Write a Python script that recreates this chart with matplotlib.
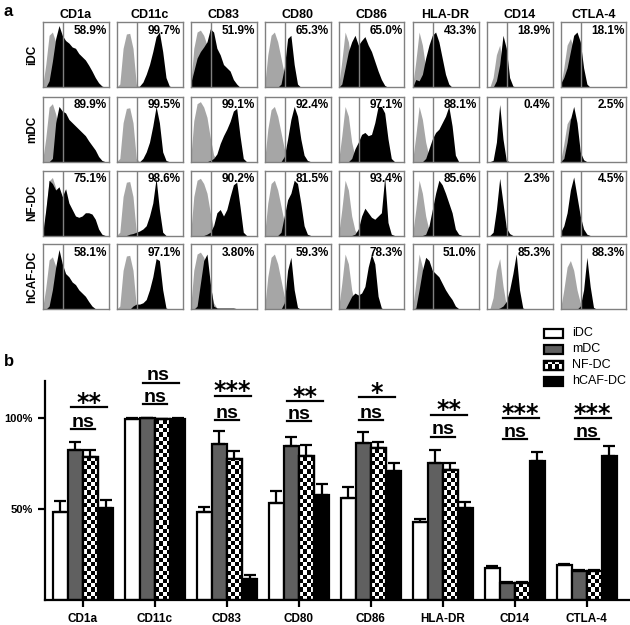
import numpy as np
import matplotlib
matplotlib.use('Agg')
import matplotlib.pyplot as plt
from matplotlib.patches import Rectangle

plt.rcParams['font.family'] = ['Liberation Sans', 'DejaVu Sans']

markers = ['CD1a', 'CD11c', 'CD83', 'CD80', 'CD86', 'HLA-DR', 'CD14', 'CTLA-4']
cell_types = ['iDC', 'mDC', 'NF-DC', 'hCAF-DC']

# ---- panel a: flow histograms (heights, 21 bins across each panel)
pct = [['58.9%', '99.7%', '51.9%', '65.3%', '65.0%', '43.3%', '18.9%', '18.1%'],
       ['89.9%', '99.5%', '99.1%', '92.4%', '97.1%', '88.1%', '0.4%', '2.5%'],
       ['75.1%', '98.6%', '90.2%', '81.5%', '93.4%', '85.6%', '2.3%', '4.5%'],
       ['58.1%', '97.1%', '3.80%', '59.3%', '78.3%', '51.0%', '85.3%', '88.3%']]

# isotype control (grey), one per marker
iso = [
    [0, .35, .8, .85, .7, .45, .25, .1, .03, 0, 0, 0, 0, 0, 0, 0, 0, 0, 0, 0, 0],
    [0, .05, .6, .82, .83, .6, .05, 0, 0, 0, 0, 0, 0, 0, 0, 0, 0, 0, 0, 0, 0],
    [0, .6, .85, .88, .8, .65, .35, .1, .02, 0, 0, 0, 0, 0, 0, 0, 0, 0, 0, 0, 0],
    [0, .5, .8, .85, .7, .45, .2, .05, 0, 0, 0, 0, 0, 0, 0, 0, 0, 0, 0, 0, 0],
    [0, .4, .85, .7, .3, .08, 0, 0, 0, 0, 0, 0, 0, 0, 0, 0, 0, 0, 0, 0, 0],
    [0, .4, .85, .65, .3, .08, 0, 0, 0, 0, 0, 0, 0, 0, 0, 0, 0, 0, 0, 0, 0],
    [0, 0, .15, .5, .65, .3, .05, 0, 0, 0, 0, 0, 0, 0, 0, 0, 0, 0, 0, 0, 0],
    [0, .3, .65, .75, .6, .3, .1, 0, 0, 0, 0, 0, 0, 0, 0, 0, 0, 0, 0, 0, 0],
]
iso_scale = [[1, 1, 1, 1, 1, 1, 1, 1],
             [1.05, 1, 1.05, 1, 1, 1, 0, 0.9],
             [1.05, 1, 1, 1, 1, 1, 0, 0],
             [0.95, 1, 1, 1, 1, 1, 1.2, 1]]

hist_idc = [
    [0, 0, .1, .4, .75, .95, .8, .72, .68, .62, .6, .52, .47, .42, .34, .25, .15, .07, .02, 0, 0],
    [0, 0, 0, 0, 0, 0, 0, .02, .08, .2, .35, .55, .78, .85, .55, .15, .02, 0, 0, 0, 0],
    [.05, .25, .45, .55, .62, .7, .9, .85, .6, .5, .35, .3, .25, .12, .05, 0, 0, 0, 0, 0, 0],
    [0, 0, 0, 0, 0, .05, .3, .75, .8, .35, .05, 0, 0, 0, 0, 0, 0, 0, 0, 0, 0],
    [0, .05, .3, .55, .7, .8, .65, .72, .78, .65, .55, .4, .25, .12, .03, 0, 0, 0, 0, 0, 0],
    [0, .12, .1, .2, .45, .65, .8, .85, .7, .45, .2, .05, 0, 0, 0, 0, 0, 0, 0, 0, 0],
    [0, 0, 0, .1, .35, .8, .6, .15, .02, 0, 0, 0, 0, 0, 0, 0, 0, 0, 0, 0, 0],
    [.05, .15, .3, .55, .8, .85, .7, .3, .05, 0, 0, 0, 0, 0, 0, 0, 0, 0, 0, 0, 0],
]
hist_mdc = [
    [0, 0, 0, .05, .6, .85, .78, .75, .65, .6, .55, .5, .45, .4, .32, .25, .18, .08, .02, 0, 0],
    [0, 0, 0, 0, 0, 0, 0, 0, .05, .15, .3, .55, .85, .6, .15, .02, 0, 0, 0, 0, 0],
    [0, 0, 0, 0, 0, 0, .02, .05, .12, .28, .4, .5, .62, .78, .82, .4, .05, 0, 0, 0, 0],
    [0, 0, 0, 0, 0, 0, .08, .35, .65, .85, .7, .35, .1, .02, 0, 0, 0, 0, 0, 0, 0],
    [0, 0, 0, 0, .05, .2, .3, .42, .45, .4, .42, .6, .85, .85, .75, .35, .05, 0, 0, 0, 0],
    [0, 0, 0, 0, .05, .2, .35, .45, .5, .6, .7, .85, .55, .1, 0, 0, 0, 0, 0, 0, 0],
    [0, 0, .02, .3, .88, .35, .02, 0, 0, 0, 0, 0, 0, 0, 0, 0, 0, 0, 0, 0, 0],
    [0, .05, .3, .65, .85, .6, .15, .03, 0, 0, 0, 0, 0, 0, 0, 0, 0, 0, 0, 0, 0],
]
hist_nf = [
    [0, .4, .85, .8, .7, .75, .6, .72, .5, .4, .3, .28, .3, .35, .35, .33, .25, .1, .02, 0, 0],
    [0, 0, 0, 0, .02, .03, .05, .07, .1, .15, .3, .5, .88, .4, .05, 0, 0, 0, 0, 0, 0],
    [0, 0, 0, 0, 0, .02, .05, .15, .35, .4, .3, .4, .6, .78, .82, .45, .05, 0, 0, 0, 0],
    [0, 0, 0, 0, 0, .05, .3, .55, .65, .85, .8, .5, .15, .02, 0, 0, 0, 0, 0, 0, 0],
    [0, 0, 0, 0, 0, .02, .1, .3, .42, .35, .28, .25, .3, .35, .9, .2, .02, 0, 0, 0, 0],
    [0, 0, 0, 0, .02, .15, .4, .65, .85, .78, .65, .5, .35, .1, .02, 0, 0, 0, 0, 0, 0],
    [0, 0, .05, .4, .88, .5, .12, .03, 0, 0, 0, 0, 0, 0, 0, 0, 0, 0, 0, 0, 0],
    [.05, .15, .35, .7, .9, .6, .3, .1, .02, 0, 0, 0, 0, 0, 0, 0, 0, 0, 0, 0, 0],
]
hist_hcaf = [
    [0, 0, .05, .3, .65, .92, .7, .55, .5, .42, .38, .3, .25, .2, .12, .05, .01, 0, 0, 0, 0],
    [0, 0, 0, 0, 0, .05, .08, .08, .1, .15, .3, .5, .78, .75, .3, .02, 0, 0, 0, 0, 0],
    [0, 0, .05, .4, .75, .85, .4, .05, .02, .02, .02, .02, .02, .02, .01, 0, 0, 0, 0, 0, 0],
    [0, 0, 0, 0, 0, 0, .1, .6, .8, .3, .03, 0, 0, 0, 0, 0, 0, 0, 0, 0, 0],
    [0, 0, 0, .1, .2, .25, .22, .25, .35, .65, .85, .7, .2, .02, 0, 0, 0, 0, 0, 0, 0],
    [0, .02, .3, .6, .8, .75, .6, .55, .5, .4, .3, .22, .15, .05, .01, 0, 0, 0, 0, 0, 0],
    [0, 0, 0, 0, .02, .05, .12, .3, .55, .85, .3, .02, 0, 0, 0, 0, 0, 0, 0, 0, 0],
    [0, 0, 0, 0, 0, 0, .05, .3, .8, .35, .03, 0, 0, 0, 0, 0, 0, 0, 0, 0, 0],
]
hists = [hist_idc, hist_mdc, hist_nf, hist_hcaf]

# ---- panel b: mean % positive and SEM (upper only)
idc = [48.4, 99.6, 48.4, 53.3, 56.0, 42.9, 17.6, 19.2]
idc_err = [6.0, 0.2, 2.6, 6.6, 6.0, 1.6, 1.1, 0.6]
mdc = [82.4, 99.7, 85.7, 84.6, 86.3, 75.3, 9.3, 15.9]
mdc_err = [4.4, 0.2, 7.2, 5.0, 6.0, 7.1, 0.6, 0.6]
nf = [78.6, 99.3, 77.5, 79.1, 83.5, 71.4, 9.3, 15.9]
nf_err = [3.8, 0.3, 4.4, 6.1, 3.3, 3.9, 0.6, 0.6]
hcaf = [50.5, 99.6, 11.5, 57.7, 70.9, 50.5, 76.4, 79.1]
hcaf_err = [4.5, 0.2, 2.2, 6.0, 4.4, 3.3, 4.9, 5.5]

sig_upper = ['**', 'ns', '***', '**', '*', '**', '***', '***']
sig_lower = ['ns'] * 8
upper_y = [105.7, 119.4, 112.1, 109.0, 111.4, 101.6, 99.8, 99.8]
lower_y = [93.8, 107.5, 98.9, 98.0, 98.9, 89.7, 88.3, 88.3]

W, H = 630, 625
fig = plt.figure(figsize=(6.3, 6.25), dpi=100)

def px_axes(left, top, w, h):
    return fig.add_axes([left / W, 1 - (top + h) / H, w / W, h / H])

xs = np.linspace(0, 1, 21)
row_tops = [22.3, 96.7, 170.5, 244.3]
frame_col = '#808080'
for r in range(4):
    for c in range(8):
        ax = px_axes(42.5 + 74 * c, row_tops[r], 66, 65)
        g = np.array(iso[c]) * iso_scale[r][c]
        ax.fill_between(xs, 0, g, color='#a6a6a6', lw=0)
        ax.fill_between(xs, 0, hists[r][c], color='black', lw=0)
        ax.axvline(0.31, color=frame_col, lw=1)
        ax.set_xlim(0, 1)
        ax.set_ylim(0, 1)
        ax.set_xticks([])
        ax.set_yticks([])
        for s in ax.spines.values():
            s.set_color(frame_col)
            s.set_linewidth(1)
        ax.text(0.97, 0.96, pct[r][c], transform=ax.transAxes, ha='right', va='top',
                fontsize=8.5, fontweight='bold')
        if r == 0:
            ax.set_title(markers[c], fontsize=9, fontweight='bold', pad=3)
    fig.text(32 / W, 1 - (row_tops[r] + 32.5) / H, cell_types[r], rotation=90,
             ha='center', va='center', fontsize=8.5, fontweight='bold')

# ---- panel b
axb = fig.add_axes([45.5 / W, 1 - 600 / H, 583 / W, 219.5 / H])
x = np.arange(len(markers))
w = 0.21
offs = [-1.5, -0.5, 0.5, 1.5]
kw = dict(edgecolor='black', linewidth=1.6, zorder=2)
axb.bar(x + offs[0] * w, idc, w, color='white', **kw)
axb.bar(x + offs[1] * w, mdc, w, color='#606060', **kw)
nf_bars = axb.bar(x + offs[2] * w, nf, w, color='white', **kw)
axb.bar(x + offs[3] * w, hcaf, w, color='black', **kw)

# checkerboard fill for NF-DC bars
sq_y = 2.3
for b in nf_bars:
    h = b.get_height()
    ny = int(np.ceil(h / sq_y))
    chk = np.indices((ny, 4)).sum(axis=0) % 2
    im = axb.imshow(chk, cmap='gray', origin='lower', aspect='auto', interpolation='nearest',
                    extent=[b.get_x(), b.get_x() + b.get_width(), 0, ny * sq_y], zorder=2.1)
    im.set_clip_path(b)
axb.bar(x + offs[2] * w, nf, w, fill=False, edgecolor='black', linewidth=1.6, zorder=2.2)

for off, vals, errs in [(offs[0], idc, idc_err), (offs[1], mdc, mdc_err),
                        (offs[2], nf, nf_err), (offs[3], hcaf, hcaf_err)]:
    axb.errorbar(x + off * w, vals, yerr=[np.zeros(len(errs)), errs], fmt='none',
                 ecolor='black', elinewidth=1.6, capsize=4, capthick=1.6, zorder=3)

# significance bars
for i in range(len(markers)):
    x0 = x[i] - 0.17
    axb.plot([x0, x[i] + 0.17], [lower_y[i]] * 2, color='black', lw=1.6, clip_on=False)
    axb.plot([x0, x[i] + 0.33], [upper_y[i]] * 2, color='black', lw=1.6, clip_on=False)
    axb.text(x[i], lower_y[i] + 1.2, sig_lower[i], ha='center', va='baseline',
             fontsize=14, fontweight='bold', clip_on=False)
    if sig_upper[i] == 'ns':
        axb.text(x[i] + 0.04, upper_y[i] + 1.2, 'ns', ha='center', va='baseline',
                 fontsize=14, fontweight='bold', clip_on=False)
    else:
        axb.text(x[i] + 0.08, upper_y[i] - 1.4, sig_upper[i], ha='center', va='baseline',
                 fontsize=17, fontweight='bold', family='DejaVu Sans', clip_on=False)

axb.set_xlim(-0.52, 7.58)
axb.set_ylim(0, 120.5)
axb.set_yticks([50, 100])
axb.set_yticklabels(['50%', '100%'], fontweight='bold', fontsize=8)
axb.set_xticks(x)
axb.set_xticklabels(markers, fontweight='bold', fontsize=8.5)
axb.spines['top'].set_visible(False)
axb.spines['right'].set_visible(False)
axb.spines['left'].set_linewidth(1.6)
axb.spines['bottom'].set_linewidth(1.6)
axb.tick_params(width=1.6, length=5, pad=4)

# overlay in pixel coordinates: panel letters and legend
ov = fig.add_axes([0, 0, 1, 1])
ov.set_xlim(0, W)
ov.set_ylim(H, 0)
ov.axis('off')
ov.text(4, 12, 'a', fontsize=12, fontweight='bold', va='center')
ov.text(4, 362, 'b', fontsize=12, fontweight='bold', va='center')
leg_fill = ['white', '#606060', 'white', 'black']
for k, name in enumerate(cell_types):
    yc = 333 + 16 * k
    rect = Rectangle((544, yc - 4.5), 19, 9, facecolor=leg_fill[k], edgecolor='black', lw=1.6)
    ov.add_patch(rect)
    if name == 'NF-DC':
        chk = np.indices((2, 5)).sum(axis=0) % 2
        im = ov.imshow(chk, cmap='gray', aspect='auto', interpolation='nearest',
                       extent=[544, 563, yc + 4.5, yc - 4.5], zorder=2)
        im.set_clip_path(rect)
        ov.add_patch(Rectangle((544, yc - 4.5), 19, 9, fill=False, edgecolor='black', lw=1.6, zorder=3))
    ov.text(572, yc, name, fontsize=9, va='center')
ov.set_xlim(0, W)
ov.set_ylim(H, 0)

fig.savefig('out.png', dpi=100)
